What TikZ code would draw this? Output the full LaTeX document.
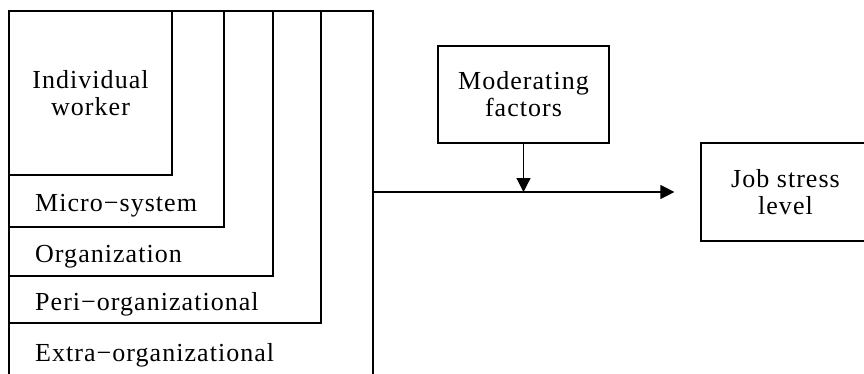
\documentclass[tikz,border=0pt]{standalone}
\usepackage{fontspec}
\setmainfont{Liberation Serif}[LetterSpace=4]
\usetikzlibrary{arrows.meta,calc}
\begin{document}
\begin{tikzpicture}[x=1pt,y=-1pt,
  box/.style={draw,line width=1.2pt,rectangle,inner sep=0pt},
  txt/.style={font=\fontsize{26}{27}\selectfont,align=center},
  lbl/.style={anchor=base west,inner sep=0pt,font=\fontsize{26}{27}\selectfont},
  arr/.style={line width=1.2pt,-{Triangle[length=14pt,width=14pt]}}]
\useasboundingbox (0,0) rectangle (864,373);
\node[box,minimum width=364pt,minimum height=389pt] (outer) at (191,205.5) {};
\node[box,minimum width=312pt,minimum height=312pt] (peri) at (165,167) {};
\node[box,minimum width=264pt,minimum height=265pt] (org) at (141,143.5) {};
\node[box,minimum width=215pt,minimum height=216pt] (micro) at (116.5,119) {};
\node[box,txt,minimum width=163pt,minimum height=164pt] (iw) at (90.5,93) {Individual\\worker};
\node[lbl] (lmicro) at (35,211) {Micro−system};
\node[lbl] (lorg) at (35,262) {Organization};
\node[lbl] (lperi) at (35,310) {Peri−organizational};
\node[lbl] (lextra) at (35,361) {Extra−organizational};
\node[box,txt,minimum width=171pt,minimum height=97pt] (mod) at (523.5,94.5) {Moderating\\factors};
\node[box,txt,minimum width=169pt,minimum height=98pt] (job) at (785.5,192) {Job stress\\level};
\coordinate (tip) at ($(job.west)+(-26,0)$);
\draw[arr] (outer.north east |- job.west) -- (tip);
\draw[arr] (mod.south) -- (mod.south |- job.west);
\end{tikzpicture}
\end{document}
